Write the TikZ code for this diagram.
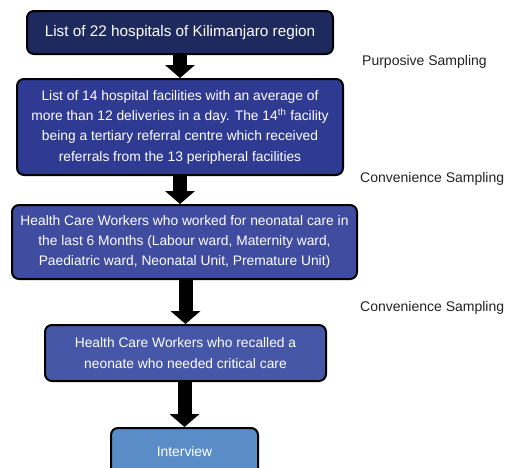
\documentclass[tikz,border=0pt]{standalone}
\usepackage{fontspec}
\setmainfont{Liberation Sans}
\usetikzlibrary{arrows.meta}
\definecolor{cA}{HTML}{1E2A5E}
\definecolor{cB}{HTML}{2F3A92}
\definecolor{cC}{HTML}{3F4CA0}
\definecolor{cD}{HTML}{4557A6}
\definecolor{cE}{HTML}{5A8DC8}
\definecolor{lbl}{HTML}{222222}
\tikzset{
  boxnode/.style={draw=black, line width=2pt, rounded corners=7pt, text=white, align=center,
    inner sep=0pt, font=\fontsize{13.8}{20.3}\selectfont},
  bigarrow/.style={line width=14pt, draw=black,
    -{Triangle[width=30pt,length=13pt,line width=0pt]}, shorten <=-1pt},
  sidelabel/.style={text=lbl, anchor=west, inner sep=0pt, font=\fontsize{14}{16}\selectfont}
}
\begin{document}
\begin{tikzpicture}[x=1pt,y=-1pt]
\useasboundingbox (0,0) rectangle (510,467);
\clip (0,0) rectangle (510,467);
\node[boxnode, fill=cA, minimum width=306pt, minimum height=43pt, font=\fontsize{15.3}{20}\selectfont] (b1) at (180,32.5) {List of 22 hospitals of Kilimanjaro region};
\node[boxnode, fill=cB, minimum width=326pt, minimum height=96pt] (b2) at (180,127) {List of 14 hospital facilities with an average of\\more than 12 deliveries in a day. The 14\textsuperscript{th} facility\\being a tertiary referral centre which received\\referrals from the 13 peripheral facilities};
\node[boxnode, fill=cC, minimum width=345pt, minimum height=74pt] (b3) at (184.5,242) {Health Care Workers who worked for neonatal care in\\the last 6 Months (Labour ward, Maternity ward,\\Paediatric ward, Neonatal Unit, Premature Unit)};
\node[boxnode, fill=cD, minimum width=281pt, minimum height=56pt] (b4) at (185.5,353) {Health Care Workers who recalled a\\neonate who needed critical care};
\node[boxnode, fill=cE, minimum width=147pt, minimum height=48pt] (b5) at (184.5,452) {Interview};
\draw[bigarrow] (b1.south) -- (b2.north);
\draw[bigarrow] (b2.south) -- (b3.north -| b2.south);
\draw[bigarrow] (b3.south -| b4.north) -- (b4.north);
\draw[bigarrow] (b4.south -| b5.north) -- (b5.north);
\node[sidelabel] (l1) at (362,62) {Purposive Sampling};
\node[sidelabel] (l2) at (360,179) {Convenience Sampling};
\node[sidelabel] (l3) at (360,308) {Convenience Sampling};
\end{tikzpicture}
\end{document}
